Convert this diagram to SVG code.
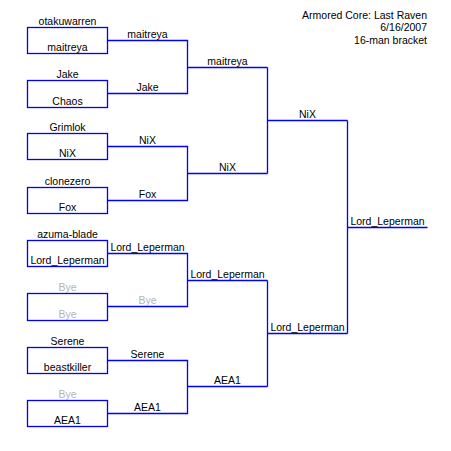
<svg xmlns="http://www.w3.org/2000/svg" width="451" height="451" viewBox="0 0 451 451">
<style>
text{font-family:"Liberation Sans",Arial,sans-serif;font-size:10.5px;fill:#000;text-anchor:middle}
.bye{fill:#b4b4b4}
.box{fill:none;stroke:#0000ff;stroke-width:1.3}
.con path{fill:none;stroke:#0000ff;stroke-width:1.3}
.title text{text-anchor:end}
</style>
<rect width="451" height="451" fill="#fff"/>
<g class="title">
<text x="427" y="18.5">Armored Core: Last Raven</text>
<text x="427" y="31">6/16/2007</text>
<text x="427" y="44">16-man bracket</text>
</g>
<g class="con">
<path d="M107.5 40.5H187.5V93.5H107.5M187.5 67.5H267.5"/>
<path d="M107.5 146.5H187.5V200.5H107.5M187.5 173.5H267.5"/>
<path d="M107.5 253.5H187.5V306.5H107.5M187.5 280.5H267.5"/>
<path d="M107.5 360.5H187.5V413.5H107.5M187.5 386.5H267.5"/>
<path d="M267.5 67.5V173.5M267.5 120.5H347.5"/>
<path d="M267.5 280.5V386.5M267.5 333.5H347.5"/>
<path d="M347.5 120.5V333.5M347.5 227.5H427.5"/>
</g>
<g id="n1"><rect class="box" x="27.5" y="27.5" width="80" height="26"/><text x="67.5" y="25">otakuwarren</text><text x="67.5" y="50.5">maitreya</text></g>
<g id="n2"><rect class="box" x="27.5" y="80.5" width="80" height="27"/><text x="67.5" y="78">Jake</text><text x="67.5" y="104.5">Chaos</text></g>
<g id="n3"><rect class="box" x="27.5" y="133.5" width="80" height="26"/><text x="67.5" y="131">Grimlok</text><text x="67.5" y="157">NiX</text></g>
<g id="n4"><rect class="box" x="27.5" y="187.5" width="80" height="26"/><text x="67.5" y="185">clonezero</text><text x="67.5" y="210.5">Fox</text></g>
<g id="n5"><rect class="box" x="27.5" y="240.5" width="80" height="26"/><text x="67.5" y="238">azuma-blade</text><text x="67.5" y="264">Lord_Leperman</text></g>
<g id="n6"><rect class="box" x="27.5" y="293.5" width="80" height="27"/><text class="bye" x="67.5" y="291">Bye</text><text class="bye" x="67.5" y="317.5">Bye</text></g>
<g id="n7"><rect class="box" x="27.5" y="347.5" width="80" height="26"/><text x="67.5" y="345">Serene</text><text x="67.5" y="370.5">beastkiller</text></g>
<g id="n8"><rect class="box" x="27.5" y="400.5" width="80" height="26"/><text class="bye" x="67.5" y="398">Bye</text><text x="67.5" y="424">AEA1</text></g>
<g id="labels">
<text x="147.5" y="37.5">maitreya</text>
<text x="147.5" y="90.5">Jake</text>
<text x="147.5" y="143.5">NiX</text>
<text x="147.5" y="197.5">Fox</text>
<text x="147.5" y="250.5">Lord_Leperman</text>
<text class="bye" x="147.5" y="303.5">Bye</text>
<text x="147.5" y="357.5">Serene</text>
<text x="147.5" y="410.5">AEA1</text>
<text x="227.5" y="64.5">maitreya</text>
<text x="227.5" y="170.5">NiX</text>
<text x="227.5" y="277.5">Lord_Leperman</text>
<text x="227.5" y="383.5">AEA1</text>
<text x="307.5" y="117.5">NiX</text>
<text x="307.5" y="330.5">Lord_Leperman</text>
<text x="387.5" y="224.5">Lord_Leperman</text>
</g>
</svg>
